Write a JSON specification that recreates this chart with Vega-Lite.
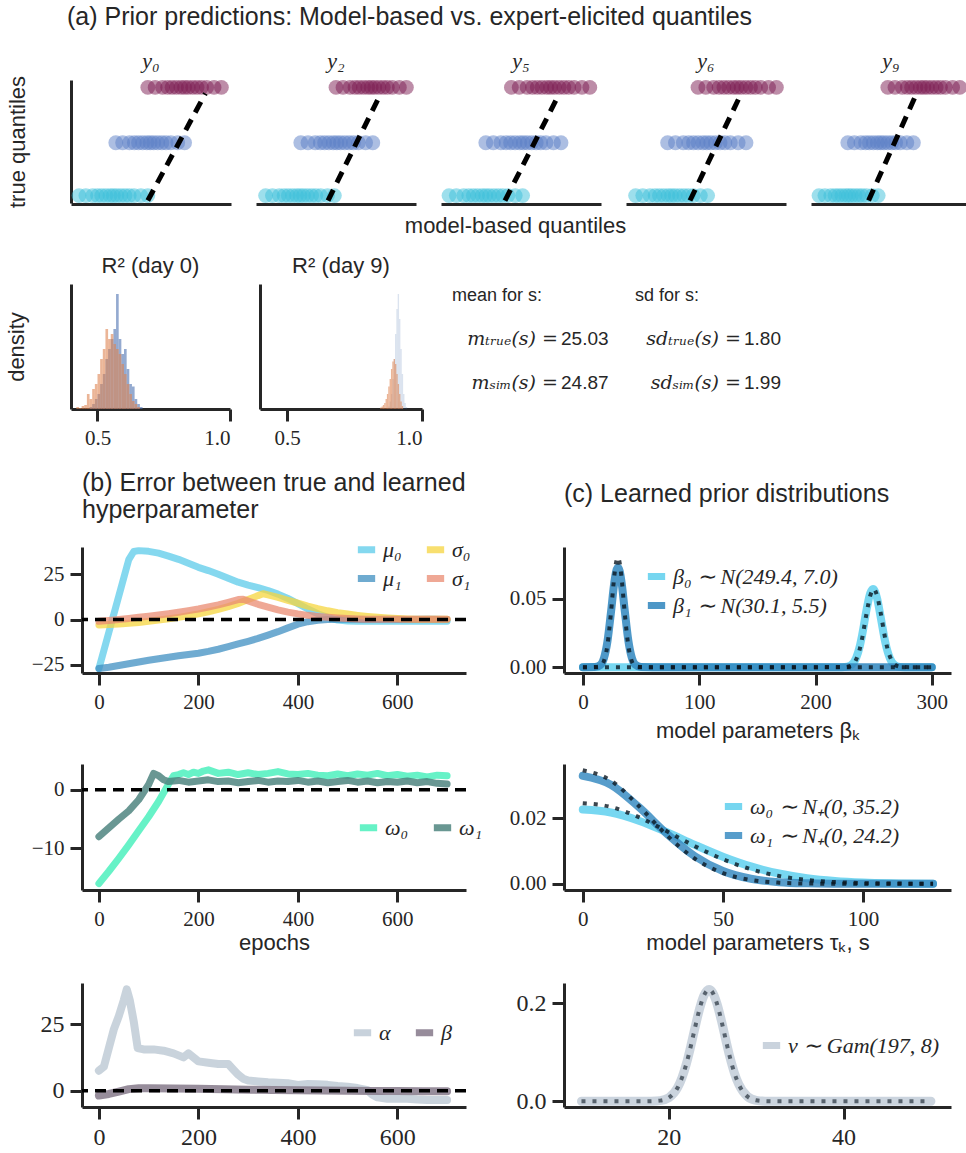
{
 "$schema": "https://vega.github.io/schema/vega-lite/v6.json",
 "background": "white",
 "padding": {"left": 5, "top": 5, "right": 5, "bottom": 5},
 "title": {"text": "(a) Prior predictions: Model-based vs. expert-elicited quantiles", "anchor": "start", "dx": 62, "fontSize": 25, "offset": 20},
 "config": {
  "view": {"stroke": null},
  "font": "Liberation Sans",
  "axis": {"grid": false, "domainColor": "#262626", "domainWidth": 3, "tickColor": "#262626", "tickWidth": 3, "tickSize": 12, "labelFont": "Liberation Serif", "labelFontSize": 21, "labelColor": "#262626", "labelPadding": 6, "titleFont": "Liberation Sans", "titleFontSize": 22, "titleFontWeight": "normal", "titleColor": "#262626"},
  "legend": {"labelFont": "Liberation Serif", "labelFontStyle": "italic", "labelFontSize": 22, "labelColor": "#262626", "symbolType": "stroke", "symbolStrokeWidth": 7, "symbolSize": 300, "labelLimit": 500, "rowPadding": 0, "columnPadding": 10, "labelOffset": 4, "padding": 0},
  "title": {"font": "Liberation Sans", "fontWeight": "normal", "color": "#262626", "fontSize": 25}
 },
 "datasets": {
  "scatter": [
   {"p":"y₀","g":"q1","x":5,"y":6},{"p":"y₀","g":"q1","x":9.3,"y":6},{"p":"y₀","g":"q1","x":13.6,"y":6},{"p":"y₀","g":"q1","x":16.6,"y":6},{"p":"y₀","g":"q1","x":19.2,"y":6},{"p":"y₀","g":"q1","x":21.8,"y":6},{"p":"y₀","g":"q1","x":24.4,"y":6},{"p":"y₀","g":"q1","x":26.5,"y":6},{"p":"y₀","g":"q1","x":28.7,"y":6},{"p":"y₀","g":"q1","x":31.2,"y":6},{"p":"y₀","g":"q1","x":33.8,"y":6},{"p":"y₀","g":"q1","x":36.4,"y":6},{"p":"y₀","g":"q1","x":39.4,"y":6},{"p":"y₀","g":"q1","x":43.7,"y":6},{"p":"y₀","g":"q1","x":48,"y":6},
   {"p":"y₀","g":"q2","x":28,"y":49},{"p":"y₀","g":"q2","x":32.3,"y":49},{"p":"y₀","g":"q2","x":36.6,"y":49},{"p":"y₀","g":"q2","x":39.6,"y":49},{"p":"y₀","g":"q2","x":42.2,"y":49},{"p":"y₀","g":"q2","x":44.8,"y":49},{"p":"y₀","g":"q2","x":47.4,"y":49},{"p":"y₀","g":"q2","x":49.5,"y":49},{"p":"y₀","g":"q2","x":51.7,"y":49},{"p":"y₀","g":"q2","x":54.2,"y":49},{"p":"y₀","g":"q2","x":56.8,"y":49},{"p":"y₀","g":"q2","x":59.4,"y":49},{"p":"y₀","g":"q2","x":62.4,"y":49},{"p":"y₀","g":"q2","x":66.7,"y":49},{"p":"y₀","g":"q2","x":71,"y":49},
   {"p":"y₀","g":"q3","x":48,"y":94},{"p":"y₀","g":"q3","x":52.6,"y":94},{"p":"y₀","g":"q3","x":57.2,"y":94},{"p":"y₀","g":"q3","x":60.4,"y":94},{"p":"y₀","g":"q3","x":63.2,"y":94},{"p":"y₀","g":"q3","x":65.9,"y":94},{"p":"y₀","g":"q3","x":68.7,"y":94},{"p":"y₀","g":"q3","x":71,"y":94},{"p":"y₀","g":"q3","x":73.3,"y":94},{"p":"y₀","g":"q3","x":76.1,"y":94},{"p":"y₀","g":"q3","x":78.8,"y":94},{"p":"y₀","g":"q3","x":81.6,"y":94},{"p":"y₀","g":"q3","x":84.8,"y":94},{"p":"y₀","g":"q3","x":89.4,"y":94},{"p":"y₀","g":"q3","x":94,"y":94},
   {"p":"y₀","g":"line","x":48,"y":2,"x2":84,"y2":89},
   {"p":"y₂","g":"q1","x":6,"y":6},{"p":"y₂","g":"q1","x":10.3,"y":6},{"p":"y₂","g":"q1","x":14.6,"y":6},{"p":"y₂","g":"q1","x":17.6,"y":6},{"p":"y₂","g":"q1","x":20.2,"y":6},{"p":"y₂","g":"q1","x":22.8,"y":6},{"p":"y₂","g":"q1","x":25.4,"y":6},{"p":"y₂","g":"q1","x":27.5,"y":6},{"p":"y₂","g":"q1","x":29.7,"y":6},{"p":"y₂","g":"q1","x":32.2,"y":6},{"p":"y₂","g":"q1","x":34.8,"y":6},{"p":"y₂","g":"q1","x":37.4,"y":6},{"p":"y₂","g":"q1","x":40.4,"y":6},{"p":"y₂","g":"q1","x":44.7,"y":6},{"p":"y₂","g":"q1","x":49,"y":6},
   {"p":"y₂","g":"q2","x":28,"y":49},{"p":"y₂","g":"q2","x":32.5,"y":49},{"p":"y₂","g":"q2","x":37,"y":49},{"p":"y₂","g":"q2","x":40.2,"y":49},{"p":"y₂","g":"q2","x":42.9,"y":49},{"p":"y₂","g":"q2","x":45.6,"y":49},{"p":"y₂","g":"q2","x":48.3,"y":49},{"p":"y₂","g":"q2","x":50.5,"y":49},{"p":"y₂","g":"q2","x":52.8,"y":49},{"p":"y₂","g":"q2","x":55.5,"y":49},{"p":"y₂","g":"q2","x":58.2,"y":49},{"p":"y₂","g":"q2","x":60.9,"y":49},{"p":"y₂","g":"q2","x":64,"y":49},{"p":"y₂","g":"q2","x":68.5,"y":49},{"p":"y₂","g":"q2","x":73,"y":49},
   {"p":"y₂","g":"q3","x":50,"y":94},{"p":"y₂","g":"q3","x":54.4,"y":94},{"p":"y₂","g":"q3","x":58.8,"y":94},{"p":"y₂","g":"q3","x":61.9,"y":94},{"p":"y₂","g":"q3","x":64.5,"y":94},{"p":"y₂","g":"q3","x":67.2,"y":94},{"p":"y₂","g":"q3","x":69.8,"y":94},{"p":"y₂","g":"q3","x":72,"y":94},{"p":"y₂","g":"q3","x":74.2,"y":94},{"p":"y₂","g":"q3","x":76.8,"y":94},{"p":"y₂","g":"q3","x":79.5,"y":94},{"p":"y₂","g":"q3","x":82.1,"y":94},{"p":"y₂","g":"q3","x":85.2,"y":94},{"p":"y₂","g":"q3","x":89.6,"y":94},{"p":"y₂","g":"q3","x":94,"y":94},
   {"p":"y₂","g":"line","x":45,"y":2,"x2":78,"y2":89},
   {"p":"y₅","g":"q1","x":5,"y":6},{"p":"y₅","g":"q1","x":9.6,"y":6},{"p":"y₅","g":"q1","x":14.2,"y":6},{"p":"y₅","g":"q1","x":17.4,"y":6},{"p":"y₅","g":"q1","x":20.2,"y":6},{"p":"y₅","g":"q1","x":22.9,"y":6},{"p":"y₅","g":"q1","x":25.7,"y":6},{"p":"y₅","g":"q1","x":28,"y":6},{"p":"y₅","g":"q1","x":30.3,"y":6},{"p":"y₅","g":"q1","x":33.1,"y":6},{"p":"y₅","g":"q1","x":35.8,"y":6},{"p":"y₅","g":"q1","x":38.6,"y":6},{"p":"y₅","g":"q1","x":41.8,"y":6},{"p":"y₅","g":"q1","x":46.4,"y":6},{"p":"y₅","g":"q1","x":51,"y":6},
   {"p":"y₅","g":"q2","x":28,"y":49},{"p":"y₅","g":"q2","x":32.7,"y":49},{"p":"y₅","g":"q2","x":37.4,"y":49},{"p":"y₅","g":"q2","x":40.7,"y":49},{"p":"y₅","g":"q2","x":43.5,"y":49},{"p":"y₅","g":"q2","x":46.3,"y":49},{"p":"y₅","g":"q2","x":49.2,"y":49},{"p":"y₅","g":"q2","x":51.5,"y":49},{"p":"y₅","g":"q2","x":53.9,"y":49},{"p":"y₅","g":"q2","x":56.7,"y":49},{"p":"y₅","g":"q2","x":59.5,"y":49},{"p":"y₅","g":"q2","x":62.3,"y":49},{"p":"y₅","g":"q2","x":65.6,"y":49},{"p":"y₅","g":"q2","x":70.3,"y":49},{"p":"y₅","g":"q2","x":75,"y":49},
   {"p":"y₅","g":"q3","x":44,"y":94},{"p":"y₅","g":"q3","x":48.9,"y":94},{"p":"y₅","g":"q3","x":53.8,"y":94},{"p":"y₅","g":"q3","x":57.2,"y":94},{"p":"y₅","g":"q3","x":60.2,"y":94},{"p":"y₅","g":"q3","x":63.1,"y":94},{"p":"y₅","g":"q3","x":66.1,"y":94},{"p":"y₅","g":"q3","x":68.5,"y":94},{"p":"y₅","g":"q3","x":71,"y":94},{"p":"y₅","g":"q3","x":73.9,"y":94},{"p":"y₅","g":"q3","x":76.8,"y":94},{"p":"y₅","g":"q3","x":79.8,"y":94},{"p":"y₅","g":"q3","x":83.2,"y":94},{"p":"y₅","g":"q3","x":88.1,"y":94},{"p":"y₅","g":"q3","x":93,"y":94},
   {"p":"y₅","g":"line","x":40,"y":2,"x2":74,"y2":89},
   {"p":"y₆","g":"q1","x":6,"y":6},{"p":"y₆","g":"q1","x":10.5,"y":6},{"p":"y₆","g":"q1","x":15,"y":6},{"p":"y₆","g":"q1","x":18.2,"y":6},{"p":"y₆","g":"q1","x":20.9,"y":6},{"p":"y₆","g":"q1","x":23.6,"y":6},{"p":"y₆","g":"q1","x":26.3,"y":6},{"p":"y₆","g":"q1","x":28.5,"y":6},{"p":"y₆","g":"q1","x":30.8,"y":6},{"p":"y₆","g":"q1","x":33.5,"y":6},{"p":"y₆","g":"q1","x":36.2,"y":6},{"p":"y₆","g":"q1","x":38.9,"y":6},{"p":"y₆","g":"q1","x":42,"y":6},{"p":"y₆","g":"q1","x":46.5,"y":6},{"p":"y₆","g":"q1","x":51,"y":6},
   {"p":"y₆","g":"q2","x":26,"y":49},{"p":"y₆","g":"q2","x":30.9,"y":49},{"p":"y₆","g":"q2","x":35.8,"y":49},{"p":"y₆","g":"q2","x":39.2,"y":49},{"p":"y₆","g":"q2","x":42.2,"y":49},{"p":"y₆","g":"q2","x":45.1,"y":49},{"p":"y₆","g":"q2","x":48.1,"y":49},{"p":"y₆","g":"q2","x":50.5,"y":49},{"p":"y₆","g":"q2","x":53,"y":49},{"p":"y₆","g":"q2","x":55.9,"y":49},{"p":"y₆","g":"q2","x":58.8,"y":49},{"p":"y₆","g":"q2","x":61.8,"y":49},{"p":"y₆","g":"q2","x":65.2,"y":49},{"p":"y₆","g":"q2","x":70.1,"y":49},{"p":"y₆","g":"q2","x":75,"y":49},
   {"p":"y₆","g":"q3","x":45,"y":94},{"p":"y₆","g":"q3","x":49.9,"y":94},{"p":"y₆","g":"q3","x":54.8,"y":94},{"p":"y₆","g":"q3","x":58.2,"y":94},{"p":"y₆","g":"q3","x":61.2,"y":94},{"p":"y₆","g":"q3","x":64.1,"y":94},{"p":"y₆","g":"q3","x":67.1,"y":94},{"p":"y₆","g":"q3","x":69.5,"y":94},{"p":"y₆","g":"q3","x":72,"y":94},{"p":"y₆","g":"q3","x":74.9,"y":94},{"p":"y₆","g":"q3","x":77.8,"y":94},{"p":"y₆","g":"q3","x":80.8,"y":94},{"p":"y₆","g":"q3","x":84.2,"y":94},{"p":"y₆","g":"q3","x":89.1,"y":94},{"p":"y₆","g":"q3","x":94,"y":94},
   {"p":"y₆","g":"line","x":40,"y":2,"x2":72,"y2":89},
   {"p":"y₉","g":"q1","x":5,"y":6},{"p":"y₉","g":"q1","x":8.7,"y":6},{"p":"y₉","g":"q1","x":12.4,"y":6},{"p":"y₉","g":"q1","x":15,"y":6},{"p":"y₉","g":"q1","x":17.2,"y":6},{"p":"y₉","g":"q1","x":19.4,"y":6},{"p":"y₉","g":"q1","x":21.7,"y":6},{"p":"y₉","g":"q1","x":23.5,"y":6},{"p":"y₉","g":"q1","x":25.4,"y":6},{"p":"y₉","g":"q1","x":27.6,"y":6},{"p":"y₉","g":"q1","x":29.8,"y":6},{"p":"y₉","g":"q1","x":32,"y":6},{"p":"y₉","g":"q1","x":34.6,"y":6},{"p":"y₉","g":"q1","x":38.3,"y":6},{"p":"y₉","g":"q1","x":42,"y":6},
   {"p":"y₉","g":"q2","x":23,"y":49},{"p":"y₉","g":"q2","x":27.1,"y":49},{"p":"y₉","g":"q2","x":31.2,"y":49},{"p":"y₉","g":"q2","x":34.1,"y":49},{"p":"y₉","g":"q2","x":36.5,"y":49},{"p":"y₉","g":"q2","x":39,"y":49},{"p":"y₉","g":"q2","x":41.5,"y":49},{"p":"y₉","g":"q2","x":43.5,"y":49},{"p":"y₉","g":"q2","x":45.6,"y":49},{"p":"y₉","g":"q2","x":48,"y":49},{"p":"y₉","g":"q2","x":50.5,"y":49},{"p":"y₉","g":"q2","x":52.9,"y":49},{"p":"y₉","g":"q2","x":55.8,"y":49},{"p":"y₉","g":"q2","x":59.9,"y":49},{"p":"y₉","g":"q2","x":64,"y":49},
   {"p":"y₉","g":"q3","x":48,"y":94},{"p":"y₉","g":"q3","x":52.5,"y":94},{"p":"y₉","g":"q3","x":57,"y":94},{"p":"y₉","g":"q3","x":60.2,"y":94},{"p":"y₉","g":"q3","x":62.9,"y":94},{"p":"y₉","g":"q3","x":65.6,"y":94},{"p":"y₉","g":"q3","x":68.3,"y":94},{"p":"y₉","g":"q3","x":70.5,"y":94},{"p":"y₉","g":"q3","x":72.8,"y":94},{"p":"y₉","g":"q3","x":75.5,"y":94},{"p":"y₉","g":"q3","x":78.2,"y":94},{"p":"y₉","g":"q3","x":80.9,"y":94},{"p":"y₉","g":"q3","x":84,"y":94},{"p":"y₉","g":"q3","x":88.5,"y":94},{"p":"y₉","g":"q3","x":93,"y":94},
   {"p":"y₉","g":"line","x":36,"y":2,"x2":66,"y2":89}
  ],
  "hist0": [
   {"s":"true","a":0.47,"b":0.48,"d":0.4},{"s":"true","a":0.48,"b":0.49,"d":1},{"s":"true","a":0.49,"b":0.50,"d":2},{"s":"true","a":0.50,"b":0.51,"d":3},{"s":"true","a":0.51,"b":0.52,"d":5},{"s":"true","a":0.52,"b":0.53,"d":7},{"s":"true","a":0.53,"b":0.54,"d":10},{"s":"true","a":0.54,"b":0.55,"d":12},{"s":"true","a":0.55,"b":0.56,"d":14},{"s":"true","a":0.56,"b":0.57,"d":16},{"s":"true","a":0.57,"b":0.58,"d":23},{"s":"true","a":0.58,"b":0.59,"d":14},{"s":"true","a":0.59,"b":0.60,"d":11},{"s":"true","a":0.60,"b":0.61,"d":12},{"s":"true","a":0.61,"b":0.62,"d":8},{"s":"true","a":0.62,"b":0.63,"d":5},{"s":"true","a":0.63,"b":0.64,"d":4.5},{"s":"true","a":0.64,"b":0.65,"d":2},{"s":"true","a":0.65,"b":0.66,"d":1},{"s":"true","a":0.66,"b":0.67,"d":0.4},
   {"s":"sim","a":0.42,"b":0.43,"d":0.4},{"s":"sim","a":0.43,"b":0.44,"d":0.2},{"s":"sim","a":0.44,"b":0.45,"d":0.6},{"s":"sim","a":0.45,"b":0.46,"d":0.8},{"s":"sim","a":0.46,"b":0.47,"d":3},{"s":"sim","a":0.47,"b":0.48,"d":2},{"s":"sim","a":0.48,"b":0.49,"d":4},{"s":"sim","a":0.49,"b":0.50,"d":5},{"s":"sim","a":0.50,"b":0.51,"d":7},{"s":"sim","a":0.51,"b":0.52,"d":10},{"s":"sim","a":0.52,"b":0.53,"d":12},{"s":"sim","a":0.53,"b":0.54,"d":16},{"s":"sim","a":0.54,"b":0.55,"d":14},{"s":"sim","a":0.55,"b":0.56,"d":15},{"s":"sim","a":0.56,"b":0.57,"d":13},{"s":"sim","a":0.57,"b":0.58,"d":12},{"s":"sim","a":0.58,"b":0.59,"d":11},{"s":"sim","a":0.59,"b":0.60,"d":9},{"s":"sim","a":0.60,"b":0.61,"d":7},{"s":"sim","a":0.61,"b":0.62,"d":5},{"s":"sim","a":0.62,"b":0.63,"d":3},{"s":"sim","a":0.63,"b":0.64,"d":1.6},{"s":"sim","a":0.64,"b":0.65,"d":1},{"s":"sim","a":0.65,"b":0.66,"d":0.4}
  ],
  "hist9": [
   {"s":"true","a":0.875,"b":0.88,"d":0.5},{"s":"true","a":0.88,"b":0.885,"d":1.5},{"s":"true","a":0.885,"b":0.89,"d":3},{"s":"true","a":0.89,"b":0.895,"d":6},{"s":"true","a":0.895,"b":0.9,"d":10},{"s":"true","a":0.9,"b":0.905,"d":15},{"s":"true","a":0.905,"b":0.91,"d":20},{"s":"true","a":0.91,"b":0.915,"d":23},{"s":"true","a":0.915,"b":0.92,"d":18},{"s":"true","a":0.92,"b":0.925,"d":12},{"s":"true","a":0.925,"b":0.93,"d":7},{"s":"true","a":0.93,"b":0.935,"d":3},{"s":"true","a":0.935,"b":0.94,"d":1.2},{"s":"true","a":0.94,"b":0.945,"d":0.4},
   {"s":"sim","a":0.845,"b":0.85,"d":0.3},{"s":"sim","a":0.85,"b":0.855,"d":0.5},{"s":"sim","a":0.855,"b":0.86,"d":0.8},{"s":"sim","a":0.86,"b":0.865,"d":1.2},{"s":"sim","a":0.865,"b":0.87,"d":2},{"s":"sim","a":0.87,"b":0.875,"d":3},{"s":"sim","a":0.875,"b":0.88,"d":4.5},{"s":"sim","a":0.88,"b":0.885,"d":6},{"s":"sim","a":0.885,"b":0.89,"d":8},{"s":"sim","a":0.89,"b":0.895,"d":9.5},{"s":"sim","a":0.895,"b":0.9,"d":10},{"s":"sim","a":0.9,"b":0.905,"d":9},{"s":"sim","a":0.905,"b":0.91,"d":7},{"s":"sim","a":0.91,"b":0.915,"d":5},{"s":"sim","a":0.915,"b":0.92,"d":3},{"s":"sim","a":0.92,"b":0.925,"d":1.5},{"s":"sim","a":0.925,"b":0.93,"d":0.6}
  ],
  "stats": [
   {"c":"mean","r":"head","k":"head","t":"mean for s:"},
   {"c":"sd","r":"head","k":"head","t":"sd for s:"},
   {"c":"mean","r":"true","k":"math","t":"mₜᵣᵤₑ(s) ="},
   {"c":"mean","r":"true","k":"num","t":"25.03"},
   {"c":"mean","r":"sim","k":"math","t":"mₛᵢₘ(s) ="},
   {"c":"mean","r":"sim","k":"num","t":"24.87"},
   {"c":"sd","r":"true","k":"math","t":"sdₜᵣᵤₑ(s) ="},
   {"c":"sd","r":"true","k":"num","t":"1.80"},
   {"c":"sd","r":"sim","k":"math","t":"sdₛᵢₘ(s) ="},
   {"c":"sd","r":"sim","k":"num","t":"1.99"}
  ],
  "zero": [{"y": 0}],
  "spacer": [{"t": ""}],
  "b1": [
   {"s":"μ₀","e":0,"v":-27},{"s":"μ₀","e":20,"v":-7},{"s":"μ₀","e":40,"v":13},{"s":"μ₀","e":60,"v":33},{"s":"μ₀","e":70,"v":37.5},{"s":"μ₀","e":80,"v":38},{"s":"μ₀","e":100,"v":37.6},{"s":"μ₀","e":120,"v":36.6},{"s":"μ₀","e":140,"v":35},{"s":"μ₀","e":160,"v":33.2},{"s":"μ₀","e":180,"v":31},{"s":"μ₀","e":200,"v":28.8},{"s":"μ₀","e":220,"v":27},{"s":"μ₀","e":240,"v":25},{"s":"μ₀","e":260,"v":22.8},{"s":"μ₀","e":280,"v":20.6},{"s":"μ₀","e":300,"v":19},{"s":"μ₀","e":320,"v":17.6},{"s":"μ₀","e":340,"v":16},{"s":"μ₀","e":360,"v":14},{"s":"μ₀","e":380,"v":11.6},{"s":"μ₀","e":400,"v":8.8},{"s":"μ₀","e":420,"v":5.8},{"s":"μ₀","e":440,"v":3.2},{"s":"μ₀","e":460,"v":1.2},{"s":"μ₀","e":480,"v":-0.3},{"s":"μ₀","e":500,"v":-0.8},{"s":"μ₀","e":520,"v":-0.9},{"s":"μ₀","e":540,"v":-0.8},{"s":"μ₀","e":560,"v":-1},{"s":"μ₀","e":580,"v":-0.9},{"s":"μ₀","e":600,"v":-1},{"s":"μ₀","e":620,"v":-0.8},{"s":"μ₀","e":640,"v":-1},{"s":"μ₀","e":660,"v":-0.9},{"s":"μ₀","e":680,"v":-1},{"s":"μ₀","e":700,"v":-0.9},
   {"s":"μ₁","e":0,"v":-27},{"s":"μ₁","e":20,"v":-26.3},{"s":"μ₁","e":40,"v":-25.4},{"s":"μ₁","e":60,"v":-24.4},{"s":"μ₁","e":80,"v":-23.4},{"s":"μ₁","e":100,"v":-22.5},{"s":"μ₁","e":120,"v":-21.6},{"s":"μ₁","e":140,"v":-20.8},{"s":"μ₁","e":160,"v":-20},{"s":"μ₁","e":180,"v":-19.3},{"s":"μ₁","e":200,"v":-18.6},{"s":"μ₁","e":220,"v":-17.6},{"s":"μ₁","e":240,"v":-16.4},{"s":"μ₁","e":260,"v":-15},{"s":"μ₁","e":280,"v":-13.5},{"s":"μ₁","e":300,"v":-12},{"s":"μ₁","e":320,"v":-10.4},{"s":"μ₁","e":340,"v":-8.6},{"s":"μ₁","e":360,"v":-6.7},{"s":"μ₁","e":380,"v":-4.6},{"s":"μ₁","e":400,"v":-2.6},{"s":"μ₁","e":420,"v":-1.2},{"s":"μ₁","e":440,"v":-0.4},{"s":"μ₁","e":460,"v":0},{"s":"μ₁","e":500,"v":0.1},{"s":"μ₁","e":540,"v":0},{"s":"μ₁","e":580,"v":0.1},{"s":"μ₁","e":620,"v":0},{"s":"μ₁","e":660,"v":0.1},{"s":"μ₁","e":700,"v":0},
   {"s":"σ₀","e":0,"v":-3},{"s":"σ₀","e":20,"v":-2.8},{"s":"σ₀","e":40,"v":-2.5},{"s":"σ₀","e":60,"v":-2.1},{"s":"σ₀","e":80,"v":-1.6},{"s":"σ₀","e":100,"v":-1},{"s":"σ₀","e":120,"v":-0.3},{"s":"σ₀","e":140,"v":0.4},{"s":"σ₀","e":160,"v":1.2},{"s":"σ₀","e":180,"v":2.1},{"s":"σ₀","e":200,"v":3.1},{"s":"σ₀","e":220,"v":4.3},{"s":"σ₀","e":240,"v":5.6},{"s":"σ₀","e":260,"v":7.1},{"s":"σ₀","e":280,"v":8.9},{"s":"σ₀","e":300,"v":11},{"s":"σ₀","e":320,"v":13.2},{"s":"σ₀","e":330,"v":14.2},{"s":"σ₀","e":340,"v":13.6},{"s":"σ₀","e":360,"v":12.2},{"s":"σ₀","e":380,"v":10.6},{"s":"σ₀","e":400,"v":9},{"s":"σ₀","e":420,"v":7.4},{"s":"σ₀","e":440,"v":6},{"s":"σ₀","e":460,"v":4.8},{"s":"σ₀","e":480,"v":3.8},{"s":"σ₀","e":500,"v":3},{"s":"σ₀","e":520,"v":2.3},{"s":"σ₀","e":540,"v":1.7},{"s":"σ₀","e":560,"v":1.2},{"s":"σ₀","e":580,"v":0.8},{"s":"σ₀","e":600,"v":0.5},{"s":"σ₀","e":620,"v":0.3},{"s":"σ₀","e":640,"v":0.2},{"s":"σ₀","e":660,"v":0.1},{"s":"σ₀","e":680,"v":0.1},{"s":"σ₀","e":700,"v":0.1},
   {"s":"σ₁","e":0,"v":-1},{"s":"σ₁","e":20,"v":-0.5},{"s":"σ₁","e":40,"v":0},{"s":"σ₁","e":60,"v":0.6},{"s":"σ₁","e":80,"v":1.2},{"s":"σ₁","e":100,"v":1.8},{"s":"σ₁","e":120,"v":2.5},{"s":"σ₁","e":140,"v":3.2},{"s":"σ₁","e":160,"v":4},{"s":"σ₁","e":180,"v":4.9},{"s":"σ₁","e":200,"v":5.8},{"s":"σ₁","e":220,"v":6.9},{"s":"σ₁","e":240,"v":8.1},{"s":"σ₁","e":260,"v":9.5},{"s":"σ₁","e":280,"v":11},{"s":"σ₁","e":290,"v":11.2},{"s":"σ₁","e":300,"v":10.2},{"s":"σ₁","e":320,"v":8.4},{"s":"σ₁","e":340,"v":6.8},{"s":"σ₁","e":360,"v":5.3},{"s":"σ₁","e":380,"v":4.1},{"s":"σ₁","e":400,"v":3.1},{"s":"σ₁","e":420,"v":2.3},{"s":"σ₁","e":440,"v":1.7},{"s":"σ₁","e":460,"v":1.2},{"s":"σ₁","e":480,"v":0.8},{"s":"σ₁","e":500,"v":0.5},{"s":"σ₁","e":520,"v":0.3},{"s":"σ₁","e":540,"v":0.2},{"s":"σ₁","e":580,"v":0.2},{"s":"σ₁","e":620,"v":0.2},{"s":"σ₁","e":660,"v":0.2},{"s":"σ₁","e":700,"v":0.2}
  ],
  "b2": [
   {"s":"ω₀","e":0,"v":-16},{"s":"ω₀","e":20,"v":-13.9},{"s":"ω₀","e":40,"v":-11.7},{"s":"ω₀","e":60,"v":-9.4},{"s":"ω₀","e":80,"v":-7},{"s":"ω₀","e":100,"v":-4.6},{"s":"ω₀","e":120,"v":-2},{"s":"ω₀","e":140,"v":1},{"s":"ω₀","e":150,"v":2.4},{"s":"ω₀","e":160,"v":2.6},{"s":"ω₀","e":170,"v":2.9},{"s":"ω₀","e":180,"v":2.6},{"s":"ω₀","e":190,"v":3},{"s":"ω₀","e":200,"v":2.8},{"s":"ω₀","e":210,"v":3.2},{"s":"ω₀","e":220,"v":3.4},{"s":"ω₀","e":230,"v":3.1},{"s":"ω₀","e":240,"v":2.8},{"s":"ω₀","e":260,"v":3},{"s":"ω₀","e":280,"v":2.6},{"s":"ω₀","e":300,"v":2.9},{"s":"ω₀","e":320,"v":2.6},{"s":"ω₀","e":340,"v":2.8},{"s":"ω₀","e":360,"v":3.1},{"s":"ω₀","e":380,"v":2.7},{"s":"ω₀","e":400,"v":2.6},{"s":"ω₀","e":420,"v":2.8},{"s":"ω₀","e":440,"v":2.5},{"s":"ω₀","e":460,"v":2.4},{"s":"ω₀","e":480,"v":2.7},{"s":"ω₀","e":500,"v":2.4},{"s":"ω₀","e":520,"v":2.7},{"s":"ω₀","e":540,"v":2.5},{"s":"ω₀","e":560,"v":2.8},{"s":"ω₀","e":580,"v":2.4},{"s":"ω₀","e":600,"v":2.6},{"s":"ω₀","e":620,"v":2.3},{"s":"ω₀","e":640,"v":2.5},{"s":"ω₀","e":660,"v":2.2},{"s":"ω₀","e":680,"v":2.5},{"s":"ω₀","e":700,"v":2.4},
   {"s":"ω₁","e":0,"v":-8},{"s":"ω₁","e":20,"v":-6.5},{"s":"ω₁","e":40,"v":-5},{"s":"ω₁","e":60,"v":-3.6},{"s":"ω₁","e":80,"v":-1.7},{"s":"ω₁","e":100,"v":0.9},{"s":"ω₁","e":110,"v":2.8},{"s":"ω₁","e":120,"v":2.4},{"s":"ω₁","e":130,"v":1.7},{"s":"ω₁","e":140,"v":1.4},{"s":"ω₁","e":160,"v":1.6},{"s":"ω₁","e":180,"v":1.3},{"s":"ω₁","e":200,"v":1.5},{"s":"ω₁","e":220,"v":1.7},{"s":"ω₁","e":240,"v":1.4},{"s":"ω₁","e":260,"v":1.5},{"s":"ω₁","e":280,"v":1.2},{"s":"ω₁","e":300,"v":1.4},{"s":"ω₁","e":320,"v":1.6},{"s":"ω₁","e":340,"v":1.3},{"s":"ω₁","e":360,"v":1.5},{"s":"ω₁","e":380,"v":1.4},{"s":"ω₁","e":400,"v":1.6},{"s":"ω₁","e":420,"v":1.3},{"s":"ω₁","e":440,"v":1.5},{"s":"ω₁","e":460,"v":1.2},{"s":"ω₁","e":480,"v":1.4},{"s":"ω₁","e":500,"v":1.6},{"s":"ω₁","e":520,"v":1.3},{"s":"ω₁","e":540,"v":1.5},{"s":"ω₁","e":560,"v":1.2},{"s":"ω₁","e":580,"v":1.4},{"s":"ω₁","e":600,"v":1.3},{"s":"ω₁","e":620,"v":1.5},{"s":"ω₁","e":640,"v":1.2},{"s":"ω₁","e":660,"v":1.4},{"s":"ω₁","e":680,"v":1.1},{"s":"ω₁","e":700,"v":1}
  ],
  "b3": [
   {"s":"α","e":0,"v":7.5},{"s":"α","e":10,"v":9},{"s":"α","e":20,"v":16},{"s":"α","e":30,"v":23},{"s":"α","e":40,"v":28},{"s":"α","e":50,"v":34},{"s":"α","e":56,"v":38},{"s":"α","e":62,"v":34},{"s":"α","e":70,"v":26},{"s":"α","e":78,"v":16},{"s":"α","e":90,"v":15.5},{"s":"α","e":110,"v":15.5},{"s":"α","e":130,"v":15},{"s":"α","e":150,"v":14},{"s":"α","e":170,"v":12.5},{"s":"α","e":180,"v":14},{"s":"α","e":190,"v":12.5},{"s":"α","e":200,"v":11},{"s":"α","e":220,"v":10.5},{"s":"α","e":240,"v":10},{"s":"α","e":260,"v":10},{"s":"α","e":270,"v":8},{"s":"α","e":280,"v":6},{"s":"α","e":290,"v":4.5},{"s":"α","e":300,"v":3.8},{"s":"α","e":320,"v":3.5},{"s":"α","e":340,"v":3.2},{"s":"α","e":360,"v":3},{"s":"α","e":380,"v":2.8},{"s":"α","e":400,"v":2.2},{"s":"α","e":420,"v":2.5},{"s":"α","e":440,"v":2.4},{"s":"α","e":460,"v":2.2},{"s":"α","e":480,"v":1.8},{"s":"α","e":500,"v":1.5},{"s":"α","e":520,"v":1},{"s":"α","e":540,"v":0.2},{"s":"α","e":550,"v":-1.5},{"s":"α","e":560,"v":-2.5},{"s":"α","e":580,"v":-3},{"s":"α","e":600,"v":-3},{"s":"α","e":620,"v":-3},{"s":"α","e":640,"v":-3.3},{"s":"α","e":660,"v":-3.5},{"s":"α","e":680,"v":-3.5},{"s":"α","e":700,"v":-3.5},
   {"s":"β","e":0,"v":-1.8},{"s":"β","e":20,"v":-1.2},{"s":"β","e":40,"v":-0.3},{"s":"β","e":60,"v":0.6},{"s":"β","e":80,"v":0.9},{"s":"β","e":100,"v":0.9},{"s":"β","e":150,"v":0.8},{"s":"β","e":200,"v":0.7},{"s":"β","e":250,"v":0.6},{"s":"β","e":300,"v":0.4},{"s":"β","e":350,"v":0.3},{"s":"β","e":400,"v":0.2},{"s":"β","e":450,"v":0.1},{"s":"β","e":500,"v":0},{"s":"β","e":550,"v":-0.1},{"s":"β","e":600,"v":-0.1},{"s":"β","e":650,"v":-0.2},{"s":"β","e":700,"v":-0.2}
  ],
  "c1": [
   {"k":"fit","s":"b0","x":0,"d":0},{"k":"fit","s":"b0","x":220,"d":0},{"k":"fit","s":"b0","x":225,"d":0.00013},{"k":"fit","s":"b0","x":230,"d":0.00123},{"k":"fit","s":"b0","x":235,"d":0.00687},{"k":"fit","s":"b0","x":238,"d":0.01513},{"k":"fit","s":"b0","x":240,"d":0.02313},{"k":"fit","s":"b0","x":244,"d":0.04233},{"k":"fit","s":"b0","x":247,"d":0.05374},{"k":"fit","s":"b0","x":249.4,"d":0.05699},{"k":"fit","s":"b0","x":250,"d":0.05678},{"k":"fit","s":"b0","x":253,"d":0.04993},{"k":"fit","s":"b0","x":256,"d":0.03654},{"k":"fit","s":"b0","x":260,"d":0.01812},{"k":"fit","s":"b0","x":262,"d":0.01128},{"k":"fit","s":"b0","x":264,"d":0.00648},{"k":"fit","s":"b0","x":268,"d":0.00167},{"k":"fit","s":"b0","x":273,"d":0.00019},{"k":"fit","s":"b0","x":280,"d":0},{"k":"fit","s":"b0","x":300,"d":0},
   {"k":"fit","s":"b1","x":0,"d":0},{"k":"fit","s":"b1","x":10,"d":0.0001},{"k":"fit","s":"b1","x":15,"d":0.00168},{"k":"fit","s":"b1","x":18,"d":0.00645},{"k":"fit","s":"b1","x":21,"d":0.01846},{"k":"fit","s":"b1","x":24,"d":0.03922},{"k":"fit","s":"b1","x":27,"d":0.06189},{"k":"fit","s":"b1","x":28.5,"d":0.06954},{"k":"fit","s":"b1","x":30.1,"d":0.07254},{"k":"fit","s":"b1","x":31.5,"d":0.07022},{"k":"fit","s":"b1","x":33,"d":0.06313},{"k":"fit","s":"b1","x":36,"d":0.0408},{"k":"fit","s":"b1","x":39,"d":0.01959},{"k":"fit","s":"b1","x":42,"d":0.00698},{"k":"fit","s":"b1","x":45,"d":0.00185},{"k":"fit","s":"b1","x":50,"d":0.0001},{"k":"fit","s":"b1","x":60,"d":0},{"k":"fit","s":"b1","x":300,"d":0},
   {"k":"true","s":"b0","x":0,"d":0},{"k":"true","s":"b0","x":225,"d":0.00009},{"k":"true","s":"b0","x":230,"d":0.00096},{"k":"true","s":"b0","x":235,"d":0.00574},{"k":"true","s":"b0","x":238,"d":0.01309},{"k":"true","s":"b0","x":240,"d":0.02064},{"k":"true","s":"b0","x":244,"d":0.0397},{"k":"true","s":"b0","x":247,"d":0.0519},{"k":"true","s":"b0","x":250,"d":0.05699},{"k":"true","s":"b0","x":253,"d":0.0519},{"k":"true","s":"b0","x":256,"d":0.0397},{"k":"true","s":"b0","x":260,"d":0.02064},{"k":"true","s":"b0","x":262,"d":0.01309},{"k":"true","s":"b0","x":265,"d":0.00574},{"k":"true","s":"b0","x":270,"d":0.00096},{"k":"true","s":"b0","x":275,"d":0.00009},{"k":"true","s":"b0","x":300,"d":0},
   {"k":"true","s":"b1","x":0,"d":0},{"k":"true","s":"b1","x":12,"d":0.00024},{"k":"true","s":"b1","x":15,"d":0.00089},{"k":"true","s":"b1","x":18,"d":0.00448},{"k":"true","s":"b1","x":21,"d":0.01579},{"k":"true","s":"b1","x":24,"d":0.03884},{"k":"true","s":"b1","x":27,"d":0.06665},{"k":"true","s":"b1","x":28.5,"d":0.07628},{"k":"true","s":"b1","x":30,"d":0.07979},{"k":"true","s":"b1","x":31.5,"d":0.07628},{"k":"true","s":"b1","x":33,"d":0.06665},{"k":"true","s":"b1","x":36,"d":0.03884},{"k":"true","s":"b1","x":39,"d":0.01579},{"k":"true","s":"b1","x":42,"d":0.00448},{"k":"true","s":"b1","x":45,"d":0.00089},{"k":"true","s":"b1","x":48,"d":0.00024},{"k":"true","s":"b1","x":55,"d":0},{"k":"true","s":"b1","x":300,"d":0}
  ],
  "c2": [
   {"k":"fit","s":"w0","x":0,"d":0.02267},{"k":"fit","s":"w0","x":10,"d":0.02177},{"k":"fit","s":"w0","x":20,"d":0.01929},{"k":"fit","s":"w0","x":30,"d":0.01576},{"k":"fit","s":"w0","x":40,"d":0.01188},{"k":"fit","s":"w0","x":50,"d":0.00827},{"k":"fit","s":"w0","x":60,"d":0.0053},{"k":"fit","s":"w0","x":70,"d":0.00314},{"k":"fit","s":"w0","x":80,"d":0.00171},{"k":"fit","s":"w0","x":90,"d":0.00086},{"k":"fit","s":"w0","x":100,"d":0.0004},{"k":"fit","s":"w0","x":110,"d":0.00017},{"k":"fit","s":"w0","x":125,"d":0.00004},
   {"k":"fit","s":"w1","x":0,"d":0.03297},{"k":"fit","s":"w1","x":10,"d":0.03027},{"k":"fit","s":"w1","x":20,"d":0.02343},{"k":"fit","s":"w1","x":30,"d":0.01529},{"k":"fit","s":"w1","x":40,"d":0.00841},{"k":"fit","s":"w1","x":50,"d":0.0039},{"k":"fit","s":"w1","x":60,"d":0.00153},{"k":"fit","s":"w1","x":70,"d":0.0005},{"k":"fit","s":"w1","x":80,"d":0.00014},{"k":"fit","s":"w1","x":90,"d":0.00003},{"k":"fit","s":"w1","x":100,"d":0},{"k":"fit","s":"w1","x":125,"d":0},
   {"k":"true","s":"w0","x":0,"d":0.02463},{"k":"true","s":"w0","x":10,"d":0.02348},{"k":"true","s":"w0","x":20,"d":0.02035},{"k":"true","s":"w0","x":30,"d":0.01604},{"k":"true","s":"w0","x":40,"d":0.01149},{"k":"true","s":"w0","x":50,"d":0.00749},{"k":"true","s":"w0","x":60,"d":0.00443},{"k":"true","s":"w0","x":70,"d":0.00239},{"k":"true","s":"w0","x":80,"d":0.00117},{"k":"true","s":"w0","x":90,"d":0.00052},{"k":"true","s":"w0","x":100,"d":0.00021},{"k":"true","s":"w0","x":110,"d":0.00008},{"k":"true","s":"w0","x":125,"d":0.00002},
   {"k":"true","s":"w1","x":0,"d":0.03469},{"k":"true","s":"w1","x":10,"d":0.03156},{"k":"true","s":"w1","x":20,"d":0.02377},{"k":"true","s":"w1","x":30,"d":0.01482},{"k":"true","s":"w1","x":40,"d":0.00765},{"k":"true","s":"w1","x":50,"d":0.00326},{"k":"true","s":"w1","x":60,"d":0.00116},{"k":"true","s":"w1","x":70,"d":0.00034},{"k":"true","s":"w1","x":80,"d":0.00008},{"k":"true","s":"w1","x":90,"d":0.00002},{"k":"true","s":"w1","x":100,"d":0},{"k":"true","s":"w1","x":125,"d":0}
  ],
  "c3": [
   {"k":"fit","s":"nu","x":10,"d":0},{"k":"fit","s":"nu","x":17,"d":0},{"k":"fit","s":"nu","x":18,"d":0.00019},{"k":"fit","s":"nu","x":19,"d":0.00139},{"k":"fit","s":"nu","x":20,"d":0.0073},{"k":"fit","s":"nu","x":21,"d":0.02767},{"k":"fit","s":"nu","x":21.5,"d":0.0477},{"k":"fit","s":"nu","x":22,"d":0.0758},{"k":"fit","s":"nu","x":22.5,"d":0.1111},{"k":"fit","s":"nu","x":23,"d":0.15},{"k":"fit","s":"nu","x":23.5,"d":0.1868},{"k":"fit","s":"nu","x":24,"d":0.2145},{"k":"fit","s":"nu","x":24.6,"d":0.2274},{"k":"fit","s":"nu","x":25,"d":0.2216},{"k":"fit","s":"nu","x":25.5,"d":0.1993},{"k":"fit","s":"nu","x":26,"d":0.1654},{"k":"fit","s":"nu","x":26.5,"d":0.1265},{"k":"fit","s":"nu","x":27,"d":0.0892},{"k":"fit","s":"nu","x":27.5,"d":0.058},{"k":"fit","s":"nu","x":28,"d":0.03475},{"k":"fit","s":"nu","x":29,"d":0.00978},{"k":"fit","s":"nu","x":30,"d":0.00199},{"k":"fit","s":"nu","x":31,"d":0.00029},{"k":"fit","s":"nu","x":32,"d":0},{"k":"fit","s":"nu","x":50,"d":0},
   {"k":"true","s":"nu","x":10,"d":0},{"k":"true","s":"nu","x":17,"d":0},{"k":"true","s":"nu","x":18,"d":0.00019},{"k":"true","s":"nu","x":19,"d":0.00139},{"k":"true","s":"nu","x":20,"d":0.0073},{"k":"true","s":"nu","x":21,"d":0.02767},{"k":"true","s":"nu","x":21.5,"d":0.0477},{"k":"true","s":"nu","x":22,"d":0.0758},{"k":"true","s":"nu","x":22.5,"d":0.1111},{"k":"true","s":"nu","x":23,"d":0.15},{"k":"true","s":"nu","x":23.5,"d":0.1868},{"k":"true","s":"nu","x":24,"d":0.2145},{"k":"true","s":"nu","x":24.6,"d":0.2274},{"k":"true","s":"nu","x":25,"d":0.2216},{"k":"true","s":"nu","x":25.5,"d":0.1993},{"k":"true","s":"nu","x":26,"d":0.1654},{"k":"true","s":"nu","x":26.5,"d":0.1265},{"k":"true","s":"nu","x":27,"d":0.0892},{"k":"true","s":"nu","x":27.5,"d":0.058},{"k":"true","s":"nu","x":28,"d":0.03475},{"k":"true","s":"nu","x":29,"d":0.00978},{"k":"true","s":"nu","x":30,"d":0.00199},{"k":"true","s":"nu","x":31,"d":0.00029},{"k":"true","s":"nu","x":32,"d":0},{"k":"true","s":"nu","x":50,"d":0}
  ]
 },
 "columns": 1,
 "align": "none",
 "spacing": 18,
 "resolve": {"scale": {"color": "independent"}, "legend": {"color": "independent"}},
 "concat": [
  {
   "data": {"name": "scatter"},
   "facet": {"column": {"field": "p", "type": "nominal", "sort": ["y₀","y₂","y₅","y₆","y₉"], "title": null, "header": {"labelFont": "Liberation Serif", "labelFontStyle": "italic", "labelFontSize": 22, "labelPadding": 6, "labelColor": "#262626"}}},
   "spacing": 25,
   "title": {"text": "model-based quantiles", "orient": "bottom", "anchor": "middle", "dx": 27, "fontSize": 22, "offset": 8},
   "spec": {
    "width": 160, "height": 123,
    "layer": [
     {"transform": [{"filter": "datum.g != 'line'"}],
      "mark": {"type": "circle", "size": 220, "opacity": 0.5},
      "encoding": {
       "x": {"field": "x", "type": "quantitative", "scale": {"domain": [0, 100], "nice": false}, "axis": {"labels": false, "ticks": false, "title": null}},
       "y": {"field": "y", "type": "quantitative", "scale": {"domain": [0, 100], "nice": false}, "axis": {"labels": false, "ticks": false, "title": "true quantiles", "titlePadding": 42, "minExtent": 0}},
       "color": {"field": "g", "type": "nominal", "scale": {"domain": ["q1","q2","q3"], "range": ["#3cbfda", "#5a7ec6", "#7b1b52"]}, "legend": null}
      }},
     {"transform": [{"filter": "datum.g == 'line'"}],
      "mark": {"type": "rule", "strokeDash": [12, 8], "strokeWidth": 5, "color": "black"},
      "encoding": {"x": {"field": "x", "type": "quantitative"}, "y": {"field": "y", "type": "quantitative"}, "x2": {"field": "x2"}, "y2": {"field": "y2"}}}
    ]
   }
  },
  {
   "hconcat": [
    {
     "width": 159, "height": 125,
     "title": {"text": "R² (day 0)", "fontSize": 22, "offset": 6, "anchor": "middle", "frame": "group"},
     "data": {"name": "hist0"},
     "mark": {"type": "rect", "opacity": 0.6},
     "encoding": {
      "x": {"field": "a", "type": "quantitative", "scale": {"domain": [0.4, 1.0], "nice": false, "zero": false}, "axis": {"values": [0.5, 1.0], "format": ".1f", "title": null}},
      "x2": {"field": "b"},
      "y": {"field": "d", "type": "quantitative", "scale": {"domain": [0, 25], "nice": false}, "axis": {"labels": false, "ticks": false, "title": "density", "titlePadding": 43, "minExtent": 0}},
      "y2": {"datum": 0},
      "color": {"field": "s", "type": "nominal", "scale": {"domain": ["true", "sim"], "range": ["#4c72b0", "#dd8452"]}, "legend": null}
     }
    },
    {
     "width": 162, "height": 125,
     "title": {"text": "R² (day 9)", "fontSize": 22, "offset": 6, "anchor": "middle", "frame": "group"},
     "data": {"name": "hist9"},
     "layer": [
      {"transform": [{"filter": "datum.s == 'true'"}],
       "mark": {"type": "rect", "opacity": 0.2, "color": "#4c72b0"},
       "encoding": {
        "x": {"field": "a", "type": "quantitative", "scale": {"domain": [0.4, 1.0], "nice": false, "zero": false}, "axis": {"values": [0.5, 1.0], "format": ".1f", "title": null}},
        "x2": {"field": "b"},
        "y": {"field": "d", "type": "quantitative", "scale": {"domain": [0, 25], "nice": false}, "axis": {"labels": false, "ticks": false, "title": null}},
        "y2": {"datum": 0}
       }},
      {"transform": [{"filter": "datum.s == 'sim'"}],
       "mark": {"type": "rect", "opacity": 0.6, "color": "#dd8452"},
       "encoding": {
        "x": {"field": "a", "type": "quantitative"},
        "x2": {"field": "b"},
        "y": {"field": "d", "type": "quantitative"},
        "y2": {"datum": 0}
       }}
     ]
    },
    {
     "width": 183, "height": 169,
     "data": {"name": "stats"},
     "encoding": {
      "x": {"field": "c", "type": "nominal", "scale": {"type": "point", "domain": ["mean", "sd"], "padding": 0}, "axis": null},
      "y": {"field": "r", "type": "nominal", "scale": {"type": "point", "domain": ["head", "true", "sim"], "padding": 0.943, "align": 0.146}, "axis": null}
     },
     "layer": [
      {"transform": [{"filter": "datum.k == 'head'"}], "mark": {"type": "text", "align": "left", "baseline": "middle", "font": "Liberation Sans", "fontSize": 18, "color": "#262626"}, "encoding": {"text": {"field": "t"}}},
      {"transform": [{"filter": "datum.k == 'math'"}], "mark": {"type": "text", "align": "right", "baseline": "middle", "font": "DejaVu Serif", "fontStyle": "italic", "fontSize": 19, "color": "#262626", "dx": 106}, "encoding": {"text": {"field": "t"}}},
      {"transform": [{"filter": "datum.k == 'num'"}], "mark": {"type": "text", "align": "left", "baseline": "middle", "font": "Liberation Sans", "fontSize": 19, "color": "#262626", "dx": 109}, "encoding": {"text": {"field": "t"}}}
     ]
    }
   ],
   "spacing": 30,
   "bounds": "flush",
   "resolve": {"scale": {"color": "independent"}, "legend": {"color": "independent"}}
  },
  {
   "hconcat": [
    {"width": 1, "height": 10, "data": {"name": "spacer"}, "mark": {"type": "text"}, "encoding": {"text": {"field": "t"}}},
    {
     "hconcat": [
      {
       "width": 384, "height": 126,
       "title": {"text": ["(b) Error between true and learned", "hyperparameter"], "anchor": "start", "frame": "group", "offset": 14, "fontSize": 25, "lineHeight": 27},
       "layer": [
        {"data": {"name": "b1"},
         "mark": {"type": "line", "strokeWidth": 7, "opacity": 0.75, "strokeCap": "round", "strokeJoin": "round"},
         "encoding": {
          "x": {"field": "e", "type": "quantitative", "scale": {"domain": [-34, 738], "nice": false, "zero": false}, "axis": {"values": [0, 200, 400, 600], "title": null}},
          "y": {"field": "v", "type": "quantitative", "scale": {"domain": [-29.5, 40], "nice": false, "zero": false}, "axis": {"values": [-25, 0, 25], "title": null}},
          "color": {"field": "s", "type": "nominal", "scale": {"domain": ["μ₀", "μ₁", "σ₀", "σ₁"], "range": ["#5ccbea", "#3f8fc1", "#f6d53f", "#ea8b72"]}, "legend": {"title": null, "orient": "none", "legendX": 272, "legendY": -10, "columns": 2}}
         }},
        {"data": {"name": "zero"}, "mark": {"type": "rule", "strokeDash": [11, 7], "strokeWidth": 3.5, "color": "black"}, "encoding": {"y": {"field": "y", "type": "quantitative"}}}
       ]
      },
      {
       "width": 387, "height": 126,
       "title": {"text": "(c) Learned prior distributions", "anchor": "start", "frame": "group", "offset": 40, "fontSize": 25},
       "data": {"name": "c1"},
       "layer": [
        {"transform": [{"filter": "datum.k == 'fit'"}],
         "mark": {"type": "line", "strokeWidth": 8, "opacity": 0.85, "strokeCap": "round", "interpolate": "monotone"},
         "encoding": {
          "x": {"field": "x", "type": "quantitative", "scale": {"domain": [-16.3, 316.5], "nice": false, "zero": false}, "axis": {"values": [0, 100, 200, 300], "title": "model parameters βₖ", "titlePadding": 8}},
          "y": {"field": "d", "type": "quantitative", "scale": {"domain": [-0.0042, 0.0875], "nice": false, "zero": false}, "axis": {"values": [0, 0.05], "format": ".2f", "title": null}},
          "color": {"field": "s", "type": "nominal", "scale": {"domain": ["b0", "b1"], "range": ["#5fd0ee", "#2f86be"]}, "legend": {"title": null, "orient": "none", "legendX": 80, "legendY": 17, "labelExpr": "datum.label == 'b0' ? 'β₀ ∼ N(249.4, 7.0)' : 'β₁ ∼ N(30.1, 5.5)'"}}
         }},
        {"transform": [{"filter": "datum.k == 'true'"}],
         "mark": {"type": "line", "strokeWidth": 4, "strokeDash": [4, 7], "color": "#0a1620", "opacity": 0.8, "interpolate": "monotone"},
         "encoding": {"x": {"field": "x", "type": "quantitative"}, "y": {"field": "d", "type": "quantitative"}, "detail": {"field": "s"}}}
       ]
      }
     ],
     "spacing": 98,
     "bounds": "flush",
     "resolve": {"scale": {"color": "independent"}, "legend": {"color": "independent"}}
    }
   ],
   "spacing": 10,
   "bounds": "flush",
   "resolve": {"scale": {"color": "independent"}, "legend": {"color": "independent"}}
  },
  {
   "hconcat": [
    {"width": 1, "height": 10, "data": {"name": "spacer"}, "mark": {"type": "text"}, "encoding": {"text": {"field": "t"}}},
    {
     "hconcat": [
      {
       "width": 384, "height": 126,
       "layer": [
        {"data": {"name": "b2"},
         "mark": {"type": "line", "strokeWidth": 7, "opacity": 0.85, "strokeCap": "round", "strokeJoin": "round"},
         "encoding": {
          "x": {"field": "e", "type": "quantitative", "scale": {"domain": [-34, 738], "nice": false, "zero": false}, "axis": {"values": [0, 200, 400, 600], "title": "epochs", "titlePadding": 3}},
          "y": {"field": "v", "type": "quantitative", "scale": {"domain": [-17.1, 4.4], "nice": false, "zero": false}, "axis": {"values": [-10, 0], "title": null}},
          "color": {"field": "s", "type": "nominal", "scale": {"domain": ["ω₀", "ω₁"], "range": ["#4cf0bd", "#4f8580"]}, "legend": {"title": null, "orient": "none", "legendX": 274, "legendY": 51, "columns": 2}}
         }},
        {"data": {"name": "zero"}, "mark": {"type": "rule", "strokeDash": [11, 7], "strokeWidth": 3.5, "color": "black"}, "encoding": {"y": {"field": "y", "type": "quantitative"}}}
       ]
      },
      {
       "width": 387, "height": 126,
       "data": {"name": "c2"},
       "layer": [
        {"transform": [{"filter": "datum.k == 'fit'"}],
         "mark": {"type": "line", "strokeWidth": 8, "opacity": 0.85, "strokeCap": "round", "interpolate": "monotone"},
         "encoding": {
          "x": {"field": "x", "type": "quantitative", "scale": {"domain": [-6.7, 131.4], "nice": false, "zero": false}, "axis": {"values": [0, 50, 100], "title": "model parameters τₖ, s", "titlePadding": 3}},
          "y": {"field": "d", "type": "quantitative", "scale": {"domain": [-0.0019, 0.0366], "nice": false, "zero": false}, "axis": {"values": [0, 0.02], "format": ".2f", "title": null}},
          "color": {"field": "s", "type": "nominal", "scale": {"domain": ["w0", "w1"], "range": ["#5fd0ee", "#3a8cc2"]}, "legend": {"title": null, "orient": "none", "legendX": 157, "legendY": 30, "labelExpr": "datum.label == 'w0' ? 'ω₀ ∼ N₊(0, 35.2)' : 'ω₁ ∼ N₊(0, 24.2)'"}}
         }},
        {"transform": [{"filter": "datum.k == 'true'"}],
         "mark": {"type": "line", "strokeWidth": 4, "strokeDash": [4, 7], "color": "#0a1620", "opacity": 0.8, "interpolate": "monotone"},
         "encoding": {"x": {"field": "x", "type": "quantitative"}, "y": {"field": "d", "type": "quantitative"}, "detail": {"field": "s"}}}
       ]
      }
     ],
     "spacing": 98,
     "bounds": "flush",
     "resolve": {"scale": {"color": "independent"}, "legend": {"color": "independent"}}
    }
   ],
   "spacing": 10,
   "bounds": "flush",
   "resolve": {"scale": {"color": "independent"}, "legend": {"color": "independent"}}
  },
  {
   "hconcat": [
    {"width": 1, "height": 10, "data": {"name": "spacer"}, "mark": {"type": "text"}, "encoding": {"text": {"field": "t"}}},
    {
     "hconcat": [
      {
       "width": 384, "height": 124,
       "layer": [
        {"data": {"name": "b3"},
         "mark": {"type": "line", "strokeWidth": 8, "opacity": 0.85, "strokeCap": "round", "strokeJoin": "round"},
         "encoding": {
          "x": {"field": "e", "type": "quantitative", "scale": {"domain": [-34, 738], "nice": false, "zero": false}, "axis": {"values": [0, 200, 400, 600], "title": null, "labelFontSize": 24}},
          "y": {"field": "v", "type": "quantitative", "scale": {"domain": [-6.1, 40.4], "nice": false, "zero": false}, "axis": {"values": [0, 25], "title": null, "labelFontSize": 24}},
          "color": {"field": "s", "type": "nominal", "scale": {"domain": ["α", "β"], "range": ["#bfcbd6", "#85798a"]}, "legend": {"title": null, "orient": "none", "legendX": 268, "legendY": 37, "columns": 2}}
         }},
        {"data": {"name": "zero"}, "mark": {"type": "rule", "strokeDash": [11, 7], "strokeWidth": 3.5, "color": "black"}, "encoding": {"y": {"field": "y", "type": "quantitative"}}}
       ]
      },
      {
       "width": 387, "height": 124,
       "data": {"name": "c3"},
       "layer": [
        {"transform": [{"filter": "datum.k == 'fit'"}],
         "mark": {"type": "line", "strokeWidth": 9, "opacity": 0.9, "strokeCap": "round", "interpolate": "monotone"},
         "encoding": {
          "x": {"field": "x", "type": "quantitative", "scale": {"domain": [8, 52.3], "nice": false, "zero": false}, "axis": {"values": [20, 40], "title": null, "labelFontSize": 24}},
          "y": {"field": "d", "type": "quantitative", "scale": {"domain": [-0.0116, 0.2407], "nice": false, "zero": false}, "axis": {"values": [0, 0.2], "format": ".1f", "title": null, "labelFontSize": 24}},
          "color": {"field": "s", "type": "nominal", "scale": {"domain": ["nu"], "range": ["#c5cfda"]}, "legend": {"title": null, "orient": "none", "legendX": 195, "legendY": 50, "labelExpr": "'ν ∼ Gam(197, 8)'"}}
         }},
        {"transform": [{"filter": "datum.k == 'true'"}],
         "mark": {"type": "line", "strokeWidth": 4, "strokeDash": [4, 7], "color": "#4a5560", "opacity": 0.9, "interpolate": "monotone"},
         "encoding": {"x": {"field": "x", "type": "quantitative"}, "y": {"field": "d", "type": "quantitative"}, "detail": {"field": "s"}}}
       ]
      }
     ],
     "spacing": 98,
     "bounds": "flush",
     "resolve": {"scale": {"color": "independent"}, "legend": {"color": "independent"}}
    }
   ],
   "spacing": 10,
   "bounds": "flush",
   "resolve": {"scale": {"color": "independent"}, "legend": {"color": "independent"}}
  }
 ]
}
